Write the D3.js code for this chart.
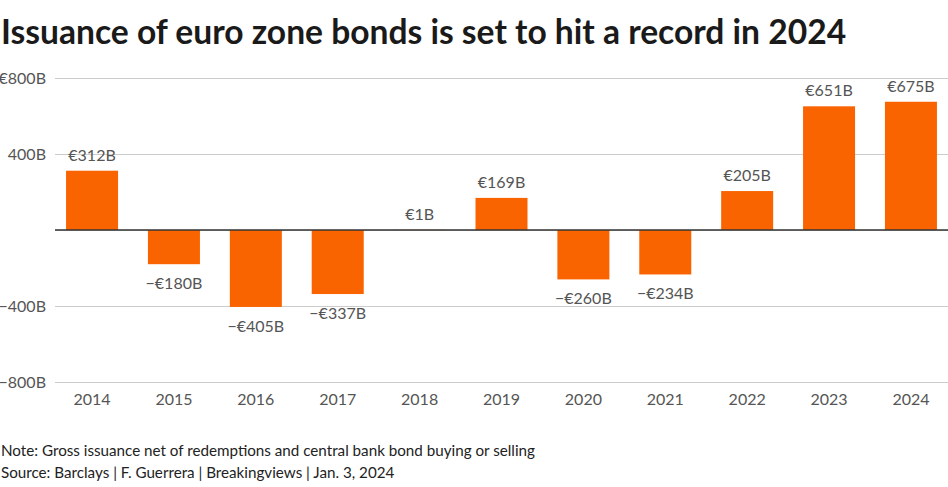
<!DOCTYPE html>
<html>
<head>
<meta charset="utf-8">
<script src="https://cdn.jsdelivr.net/npm/d3@7"></script>
<style>
  body { margin: 0; background: #fff; }
  svg { display: block; font-family: "Lato", "Open Sans", sans-serif; }
</style>
</head>
<body>
<div id="chart"></div>
<script>
var years = ["2014", "2015", "2016", "2017", "2018", "2019", "2020", "2021", "2022", "2023", "2024"];
var issuance = [312, -180, -405, -337, 1, 169, -260, -234, 205, 651, 675];
var yTicks = [800, 400, 0, -400, -800];

var width = 948, height = 487;
var margin = {top: 78, right: 0, bottom: 105, left: 55};

var svg = d3.select("#chart").append("svg")
    .attr("width", width)
    .attr("height", height);

var x = d3.scaleBand()
    .domain(years)
    .range([margin.left, width - margin.right])
    .paddingInner(0.365)
    .paddingOuter(0.135);

var y = d3.scaleLinear()
    .domain([-800, 800])
    .range([height - margin.bottom, margin.top]);

function fmtTick(v) {
    if (v === 0) return "";
    if (v === 800) return "\u20ac800B";
    return (v < 0 ? "\u2212" : "") + Math.abs(v) + "B";
}
function fmtVal(v) {
    return (v < 0 ? "\u2212" : "") + "\u20ac" + Math.abs(v) + "B";
}

// title
svg.append("text")
    .attr("x", 1)
    .attr("y", 44)
    .attr("font-size", 33.6)
    .attr("font-weight", 700)
    .attr("fill", "#1a1a1a")
    .text("Issuance of euro zone bonds is set to hit a record in 2024");

// grid
var yAxis = svg.append("g")
    .attr("transform", "translate(" + margin.left + ",0)")
    .call(d3.axisLeft(y).tickValues(yTicks).tickSize(-(width - margin.left)).tickFormat(fmtTick).tickPadding(9));
yAxis.select(".domain").remove();
yAxis.selectAll(".tick line").attr("stroke", "#cccccc").attr("stroke-width", 1.2);
yAxis.selectAll(".tick text")
    .attr("font-size", 16)
    .attr("fill", "#555")
    .attr("font-family", "Lato, sans-serif");

// bars
svg.append("g").selectAll("rect")
    .data(issuance)
    .join("rect")
    .attr("x", function(d, i) { return x(years[i]); })
    .attr("y", function(d) { return y(Math.max(0, d)); })
    .attr("width", x.bandwidth())
    .attr("height", function(d) { return Math.abs(y(d) - y(0)); })
    .attr("fill", "#f96400");

// zero line
svg.append("line")
    .attr("x1", margin.left)
    .attr("x2", width)
    .attr("y1", y(0))
    .attr("y2", y(0))
    .attr("stroke", "#333")
    .attr("stroke-width", 1.5);

// value labels
svg.append("g").selectAll("text")
    .data(issuance)
    .join("text")
    .attr("x", function(d, i) { return x(years[i]) + x.bandwidth() / 2; })
    .attr("y", function(d) { return d >= 0 ? y(d) - 10 : y(d) + 25; })
    .attr("text-anchor", "middle")
    .attr("font-size", 16)
    .attr("fill", "#555")
    .text(fmtVal);

// x axis labels
var xAxis = svg.append("g")
    .attr("transform", "translate(0," + y(-800) + ")")
    .call(d3.axisBottom(x).tickSize(0).tickPadding(12));
xAxis.select(".domain").remove();
xAxis.selectAll(".tick text")
    .attr("font-size", 16)
    .attr("fill", "#555")
    .attr("font-family", "Lato, sans-serif");

// footnotes
svg.append("text")
    .attr("x", 1)
    .attr("y", 456)
    .attr("font-size", 15.2)
    .attr("fill", "#222")
    .text("Note: Gross issuance net of redemptions and central bank bond buying or selling");
svg.append("text")
    .attr("x", 1)
    .attr("y", 478)
    .attr("font-size", 15.2)
    .attr("fill", "#222")
    .text("Source: Barclays | F. Guerrera | Breakingviews | Jan. 3, 2024");
</script>
</body>
</html>
